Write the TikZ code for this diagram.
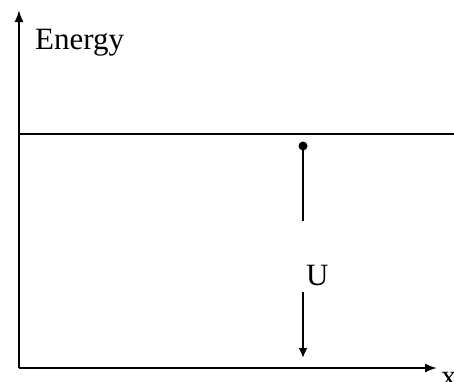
\documentclass[tikz,border=0pt]{standalone}
\usepackage{fontspec}
\setmainfont{Liberation Serif}
\usetikzlibrary{arrows.meta}
\begin{document}
\begin{tikzpicture}[x=1pt,y=-1pt,
  axis/.style={line width=2pt,-{Latex[length=12pt,width=9pt]}},
  lbl/.style={font=\fontsize{31}{34}\selectfont,inner sep=0pt},
  level/.style={line width=1.6pt},
  ulen/.style={line width=2.2pt}]
\useasboundingbox (0,0) rectangle (454,381);
\fill[white] (0,0) rectangle (454,381);
\coordinate (O) at (19,368);
\coordinate (ytop) at (19,10);
\coordinate (xend) at (437,368);
\draw[axis] (O) -- (ytop);
\draw[axis] (O) -- (xend);
\node[lbl,anchor=base west] (energy) at (35,49) {Energy};
\node[lbl,anchor=base west] (xlab) at (441,386) {x};
\coordinate (l1) at (19,134);
\coordinate (l2) at (454,134);
\draw[level] (l1) -- (l2);
\coordinate (utop) at (303,146);
\coordinate (umid1) at (303,221);
\coordinate (umid2) at (303,292);
\coordinate (ubot) at (303,358);
\fill (utop) circle (4.5pt);
\node[lbl,anchor=base west] (U) at (306,285) {U};
\draw[ulen] (utop) -- (umid1);
\draw[ulen,-{Latex[length=10pt,width=9pt]}] (umid2) -- (ubot);
\end{tikzpicture}
\end{document}
